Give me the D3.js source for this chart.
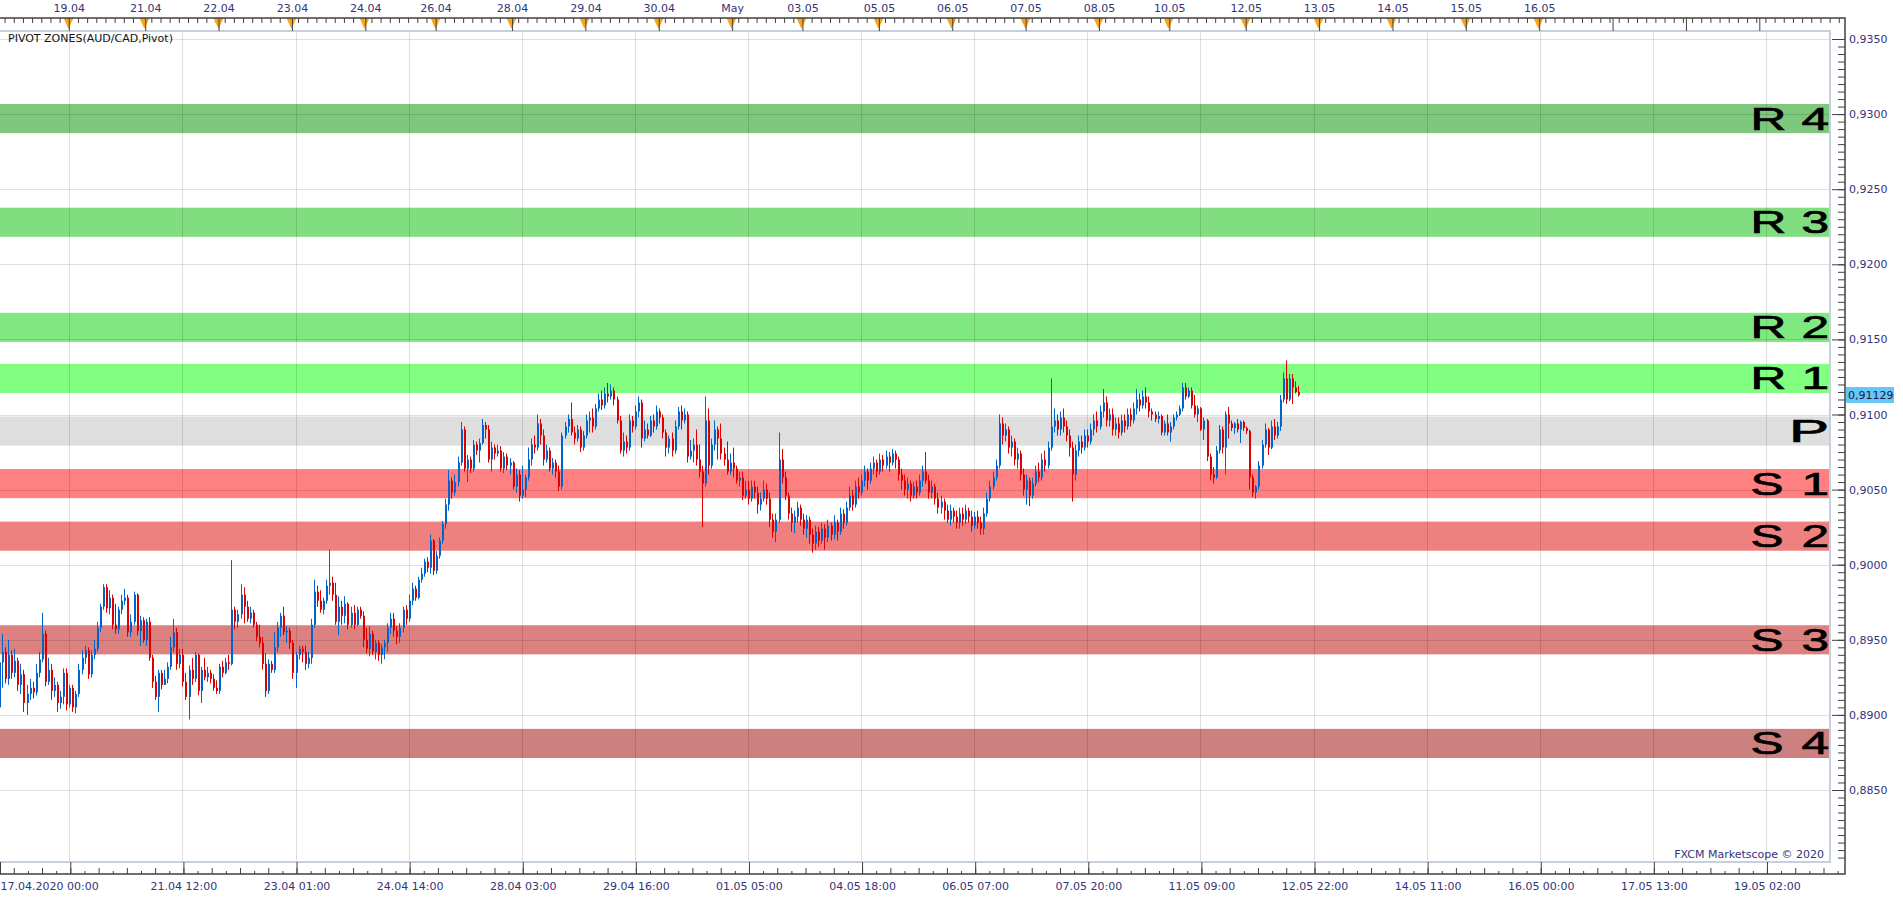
<!DOCTYPE html>
<html>
<head>
<meta charset="utf-8">
<script src="https://cdn.jsdelivr.net/npm/d3@7"></script>
<style>
  body { margin: 0; background: #fff; }
  svg { display: block; }
</style>
</head>
<body>
<div id="chart"></div>
<script>
// pivot zones (centre of each band)
const zoneNames = ['R4', 'R3', 'R2', 'R1', 'P', 'S1', 'S2', 'S3', 'S4'];
const zoneLevels = [0.9297, 0.9228, 0.9158, 0.9124, 0.9089, 0.9054, 0.9019, 0.8950, 0.8881];
const zoneColors = ['#7dc87d', '#80dd80', '#80e880', '#80ff80', '#dedede', '#ff8080', '#ee8080', '#dd8080', '#cd8080'];
const zoneHalf = 0.00097;

const priceTicks = [0.8850, 0.8900, 0.8950, 0.9000, 0.9050, 0.9100, 0.9150, 0.9200, 0.9250, 0.9300, 0.9350];
const lastPrice = 0.91129;

// top axis: day labels at bar boundaries (hourly bars, weekends collapsed)
const topTickLabels = ['19.04', '21.04', '22.04', '23.04', '24.04', '26.04', '28.04', '29.04', '30.04', 'May',
  '03.05', '05.05', '06.05', '07.05', '08.05', '10.05', '12.05', '13.05', '14.05', '15.05', '16.05'];
const topTickBars = [22.5, 47.5, 71.5, 95.5, 119.5, 142.5, 167.5, 191.5, 215.5, 239.5,
  262.5, 287.5, 311.5, 335.5, 359.5, 382.5, 407.5, 431.5, 455.5, 479.5, 503.5];
const topEmptyBars = [527.5, 551.5, 575.5];

// bottom axis
const bottomTickLabels = ['17.04.2020 00:00', '', '21.04 12:00', '23.04 01:00', '24.04 14:00', '28.04 03:00', '29.04 16:00',
  '01.05 05:00', '04.05 18:00', '06.05 07:00', '07.05 20:00', '11.05 09:00', '12.05 22:00', '14.05 11:00',
  '16.05 00:00', '17.05 13:00', '19.05 02:00'];
const bottomTickBars = [0, 23, 60, 97, 134, 171, 208, 245, 282, 319, 356, 393, 430, 467, 504, 541, 578];

// AUD/CAD H1 candles, in pips from 0.9000; open of a bar is the previous close
const firstOpen = -95;
const closes = [
  -65,-58,-76,-60,-72,-64,-80,-73,-92,-86, -82,-85,-72,-63,-46,-78,-70,-84,-80,-92,
  -88,-72,-93,-82,-95,-86,-70,-62,-57,-73, -60,-56,-42,-28,-15,-29,-22,-40,-43,-30,
  -24,-22,-45,-38,-20,-44,-37,-50,-38,-62, -78,-88,-72,-80,-76,-68,-55,-45,-66,-60,
  -78,-88,-70,-76,-60,-84,-70,-75,-72,-76, -82,-84,-68,-72,-65,-66,-30,-38,-33,-20,
  -28,-36,-32,-40,-48,-52,-66,-84,-66,-70, -55,-42,-34,-45,-44,-52,-72,-60,-56,-58,
  -66,-62,-40,-18,-24,-30,-24,-14,-12,-20, -38,-28,-34,-26,-40,-32,-40,-30,-34,-50,
  -56,-46,-58,-52,-60,-55,-52,-42,-36,-44, -48,-42,-30,-36,-24,-16,-22,-10,-6,2,
  -2,16,-4,6,16,27,40,56,48,55, 68,90,64,70,64,80,76,81,93,90,
  70,78,74,76,64,72,66,68,52,60, 46,50,58,70,80,78,94,86,70,76,
  64,68,62,52,86,92,97,88,84,90, 78,86,96,98,92,104,110,106,114,112,
  116,110,96,76,82,78,96,92,102,108, 84,90,86,96,92,102,98,88,78,84,
  76,92,102,96,100,72,76,80,70,62, 54,96,66,80,90,84,74,70,62,68,
  64,56,58,46,50,44,52,48,40,44, 50,44,30,22,30,70,58,46,34,28,
  32,38,30,24,30,20,14,22,16,24, 18,26,20,28,22,34,28,38,46,40,
  52,48,56,62,56,64,68,62,70,66, 72,68,74,70,60,56,50,54,46,52,
  48,56,62,56,48,52,44,38,42,36, 30,36,32,28,34,30,36,32,26,32,
  28,24,34,44,52,58,66,94,86,90, 78,82,70,74,60,50,56,46,54,62,
  58,70,66,78,92,96,90,98,92,86, 78,60,76,82,78,86,82,90,96,92,
  102,108,96,100,90,94,88,96,92,100, 96,104,110,106,112,108,102,100,97,99,
  88,94,88,92,98,100,104,118,112,116, 106,100,104,90,96,72,60,58,76,90,
  78,100,94,91,94,90,95,91,89,58, 48,52,66,80,90,78,92,86,92,110,
  124,110,124,118,115,113
];
const highs = [
  -61,-46,-55,-50,-57,-56,-62,-66,-70,-80, -76,-78,-66,-58,-32,-44,-62,-66,-75,-78,
  -84,-69,-69,-80,-80,-84,-66,-57,-54,-55, -57,-50,-38,-26,-13,-13,-17,-20,-26,-28,
  -20,-16,-20,-33,-18,-19,-34,-35,-36,-35, -60,-74,-70,-70,-70,-65,-48,-36,-42,-56,
  -56,-72,-67,-62,-58,-59,-68,-62,-68,-70, -73,-77,-66,-64,-62,-60,3,-28,-30,-13,
  -15,-24,-28,-30,-38,-40,-48,-59,-63,-64, -45,-38,-32,-28,-41,-42,-50,-58,-54,-54,
  -54,-58,-36,-10,-14,-17,-22,-10,10,-8, -12,-21,-24,-21,-25,-28,-27,-28,-28,-31,
  -42,-41,-44,-50,-50,-53,-50,-39,-32,-32, -41,-39,-28,-27,-20,-12,-14,-8,-2,4,
  5,20,17,9,18,29,44,63,58,60, 72,95,92,73,72,83,82,84,97,95,
  93,82,80,80,79,75,74,71,69,64, 63,66,60,78,84,86,100,97,90,80,
  78,71,70,66,88,95,100,108,92,93, 92,89,100,102,104,107,114,116,118,121,
  120,118,112,99,88,86,100,99,106,112, 110,96,94,99,100,106,104,100,90,86,
  88,96,105,106,104,102,83,84,90,80, 66,112,104,84,96,92,94,78,82,74,
  78,66,62,62,56,56,56,56,52,48, 56,54,48,34,34,88,77,62,48,38,
  36,42,40,34,33,32,24,26,25,28, 27,30,28,33,30,38,37,42,52,50,
  56,58,60,66,64,68,72,70,74,73, 76,75,77,76,72,64,60,58,56,55,
  56,60,66,75,60,56,54,48,46,44, 40,40,38,36,38,38,40,38,36,35,
  36,32,38,48,56,62,70,100,98,94, 92,86,84,78,76,64,60,58,58,66,
  68,74,76,82,124,104,100,102,104,96, 90,82,80,86,86,90,90,94,100,102,
  106,117,112,104,104,98,98,100,100,104, 104,108,117,114,116,118,112,104,102,102,
  100,96,100,95,100,102,106,121,121,118, 118,113,106,105,98,97,74,65,79,93,
  92,102,105,96,95,97,96,96,92,90, 60,53,69,83,94,91,96,97,95,113,
  128,136,127,127,122,119
];
const lows = [
  -107,-82,-79,-80,-76,-75,-84,-86,-98,-100, -90,-89,-87,-75,-65,-81,-80,-90,-88,-98,
  -96,-93,-97,-95,-98,-99,-88,-73,-66,-76, -75,-63,-58,-45,-30,-32,-33,-43,-46,-46,
  -33,-27,-48,-48,-40,-47,-54,-52,-54,-64, -82,-90,-98,-83,-80,-79,-70,-58,-70,-69,
  -81,-90,-103,-80,-78,-87,-92,-77,-78,-79, -84,-86,-86,-75,-73,-70,-67,-43,-42,-36,
  -39,-38,-39,-42,-51,-55,-70,-88,-86,-72, -72,-58,-48,-47,-52,-56,-76,-82,-63,-65,
  -70,-69,-66,-42,-28,-32,-33,-26,-20,-24, -40,-47,-40,-39,-43,-42,-43,-41,-36,-55,
  -59,-61,-60,-63,-64,-66,-63,-58,-46,-48, -53,-52,-45,-40,-38,-27,-24,-23,-12,-8,
  -5,-6,-7,-6,4,14,24,36,44,46, 52,66,62,55,61,62,73,68,80,84,
  68,62,70,72,62,61,63,60,50,48, 42,44,45,56,66,74,76,80,66,68,
  62,60,58,49,50,84,88,86,80,82, 75,76,84,88,88,90,102,103,104,108,
  110,106,94,74,72,74,76,88,90,98, 78,82,84,85,88,90,94,84,72,74,
  72,74,90,90,94,68,70,68,66,58, 25,52,60,64,76,70,70,66,60,60,
  58,54,52,43,44,40,42,44,34,36, 42,40,25,18,15,28,54,43,30,22,
  21,28,26,20,18,14,8,10,12,14, 10,15,16,17,16,20,24,26,36,36,
  38,44,46,52,50,54,60,58,60,62, 64,62,66,64,56,50,46,44,42,44,
  44,46,52,54,44,44,40,34,34,30, 28,26,28,24,24,26,27,28,22,24,
  24,20,20,32,42,50,56,64,80,82, 74,72,66,64,56,46,40,39,44,52,
  55,56,62,64,76,88,86,86,88,82, 72,42,56,72,74,76,78,80,86,88,
  90,98,92,92,86,86,84,86,88,90, 92,94,100,102,104,104,98,96,95,94,
  86,86,86,82,90,96,99,102,110,111, 104,98,95,89,83,69,56,54,57,74,
  74,60,84,89,87,88,81,89,87,50, 45,44,50,64,78,73,77,83,84,89,
  108,107,109,107,114,112
];

const W = 1903, H = 900;
const plotRight = 1830, plotTop = 31, plotBottom = 862;
const axisX = 1845, topAxisY = 18, bottomAxisY = 874;
const axisColor = '#404040';
const labelColor = '#33337a';
const gridColor = 'rgba(0,0,0,0.12)';
const upColor = '#0064c8';
const downColor = '#dc0000';
const axisFont = '"DejaVu Sans", Verdana, sans-serif';

const toPrice = p => 0.9 + p / 10000;

const x = d3.scaleLinear().domain([0, 600]).range([0, 1834.2]);
const y = d3.scaleLinear().domain([0.8850, 0.9350]).range([790, 39]);

const svg = d3.select('#chart').append('svg')
  .attr('width', W)
  .attr('height', H);

svg.append('rect').attr('width', W).attr('height', H).attr('fill', '#fff');

svg.append('defs').append('clipPath').attr('id', 'plotClip')
  .append('rect')
  .attr('x', 0).attr('y', plotTop)
  .attr('width', plotRight).attr('height', plotBottom - plotTop);

const plot = svg.append('g').attr('clip-path', 'url(#plotClip)');

// Zones
plot.selectAll('rect.zone')
  .data(zoneLevels)
  .join('rect')
  .attr('class', 'zone')
  .attr('x', 0)
  .attr('width', plotRight)
  .attr('y', d => y(d + zoneHalf))
  .attr('height', d => y(d - zoneHalf) - y(d + zoneHalf))
  .attr('fill', (d, i) => zoneColors[i]);

// Grid
plot.selectAll('line.hgrid')
  .data(priceTicks)
  .join('line')
  .attr('x1', 0).attr('x2', plotRight)
  .attr('y1', d => Math.round(y(d)) + 0.5)
  .attr('y2', d => Math.round(y(d)) + 0.5)
  .attr('stroke', gridColor);

plot.selectAll('line.vgrid')
  .data(bottomTickBars.slice(1))
  .join('line')
  .attr('x1', d => Math.round(x(d)) - 0.5)
  .attr('x2', d => Math.round(x(d)) - 0.5)
  .attr('y1', plotTop).attr('y2', plotBottom)
  .attr('stroke', gridColor);

// Candles
const bars = closes.map((c, i) => ({
  i,
  o: i === 0 ? firstOpen : closes[i - 1],
  c,
  h: highs[i],
  l: lows[i]
}));
const barColor = d => d.c >= d.o ? upColor : downColor;

const candles = plot.append('g');
candles.selectAll('rect.wick')
  .data(bars)
  .join('rect')
  .attr('class', 'wick')
  .attr('x', d => Math.round(x(d.i)) - 1)
  .attr('width', 1)
  .attr('y', d => y(toPrice(Math.max(d.h, d.o, d.c))))
  .attr('height', d => Math.max(1, y(toPrice(Math.min(d.l, d.o, d.c))) - y(toPrice(Math.max(d.h, d.o, d.c)))))
  .attr('fill', barColor);

candles.selectAll('rect.body')
  .data(bars)
  .join('rect')
  .attr('class', 'body')
  .attr('x', d => Math.round(x(d.i)) - 1)
  .attr('width', 2)
  .attr('y', d => y(toPrice(Math.max(d.o, d.c))))
  .attr('height', d => Math.max(1, y(toPrice(Math.min(d.o, d.c))) - y(toPrice(Math.max(d.o, d.c)))))
  .attr('fill', barColor);

// Zone labels (wide, heavy lettering)
svg.append('g').selectAll('g.zlabel')
  .data(zoneLevels)
  .join('g')
  .attr('transform', d => `translate(1829,${y(d) + 11}) scale(1.6,1)`)
  .append('text')
  .attr('text-anchor', 'end')
  .attr('font-family', '"Liberation Sans", Arial, sans-serif')
  .attr('font-size', 31)
  .attr('fill', '#000')
  .attr('stroke', '#000')
  .attr('stroke-width', 0.7)
  .each(function (d, i) {
    const t = d3.select(this).text(zoneNames[i]);
    if (zoneNames[i].length > 1) t.attr('textLength', 49).attr('lengthAdjust', 'spacing');
    else t.attr('textLength', 25).attr('lengthAdjust', 'spacingAndGlyphs');
  });

// Plot frame
svg.append('rect')
  .attr('x', -2).attr('y', plotTop)
  .attr('width', plotRight + 2).attr('height', plotBottom - plotTop)
  .attr('fill', 'none')
  .attr('stroke', '#c6d0dc')
  .attr('stroke-width', 2);

// Right price axis
const yMinor = d3.range(1, 111).map(k => 0.8800 + k * 0.0005).filter(v => v <= 0.93501);
svg.append('g')
  .attr('transform', `translate(${axisX},0)`)
  .call(d3.axisRight(y).tickValues(yMinor).tickSizeInner(-7).tickSizeOuter(0).tickFormat(''))
  .call(g => g.select('.domain').remove())
  .call(g => g.selectAll('line').attr('stroke', axisColor));

svg.append('g')
  .attr('transform', `translate(${axisX},0)`)
  .call(d3.axisRight(y).tickValues(priceTicks).tickSizeInner(-13).tickSizeOuter(0).tickPadding(4)
    .tickFormat(d => d3.format('.4f')(d).replace('.', ',')))
  .call(g => g.select('.domain').remove())
  .call(g => g.selectAll('line').attr('stroke', axisColor))
  .call(g => g.selectAll('text')
    .attr('font-family', axisFont)
    .attr('font-size', 11)
    .attr('fill', labelColor));

// current price marker
svg.append('rect')
  .attr('x', axisX + 1).attr('y', Math.round(y(lastPrice)) - 8)
  .attr('width', 48).attr('height', 16)
  .attr('fill', '#66c6f5');
svg.append('text')
  .attr('x', axisX + 3).attr('y', Math.round(y(lastPrice)) + 4)
  .attr('font-family', axisFont).attr('font-size', 11)
  .attr('fill', '#1a1a40')
  .text(d3.format('.5f')(lastPrice).replace('.', ','));

// Top axis
const topMinor = d3.range(1.5, 603, 3);
svg.append('g')
  .attr('transform', `translate(0,${topAxisY})`)
  .call(d3.axisTop(x).tickValues(topMinor).tickSizeInner(-5).tickSizeOuter(0).tickFormat(''))
  .call(g => g.select('.domain').remove())
  .call(g => g.selectAll('line').attr('stroke', axisColor));

svg.append('g').selectAll('path.flag')
  .data(topTickBars)
  .join('path')
  .attr('d', d => {
    const cx = Math.round(x(d)) - 0.5;
    return `M${cx - 5},${topAxisY}L${cx + 5},${topAxisY}L${cx},${topAxisY + 11}Z`;
  })
  .attr('fill', '#f7a51e');

svg.append('g')
  .attr('transform', `translate(0,${topAxisY})`)
  .call(d3.axisTop(x).tickValues(topTickBars.concat(topEmptyBars)).tickSizeInner(-13).tickSizeOuter(0).tickPadding(6)
    .tickFormat((d, i) => topTickLabels[i] || ''))
  .call(g => g.select('.domain').remove())
  .call(g => g.selectAll('line').attr('stroke', axisColor))
  .call(g => g.selectAll('text')
    .attr('font-family', axisFont)
    .attr('font-size', 11)
    .attr('fill', labelColor));

// Bottom axis
const bottomMinor = d3.range(4.5, 603, 37 / 8);
svg.append('g')
  .attr('transform', `translate(0,${bottomAxisY})`)
  .call(d3.axisBottom(x).tickValues(bottomMinor).tickSizeOuter(0).tickFormat(''))
  .call(g => g.select('.domain').remove())
  .call(g => g.selectAll('line')
    .attr('stroke', axisColor)
    .attr('y2', (d, i) => (i % 2 === 0) ? -6 : -3));

svg.append('g')
  .attr('transform', `translate(0,${bottomAxisY})`)
  .call(d3.axisBottom(x).tickValues(bottomTickBars).tickSizeInner(-12).tickSizeOuter(0).tickPadding(8)
    .tickFormat((d, i) => bottomTickLabels[i]))
  .call(g => g.select('.domain').remove())
  .call(g => g.selectAll('line').attr('stroke', axisColor))
  .call(g => g.selectAll('text')
    .attr('font-family', axisFont)
    .attr('font-size', 11)
    .attr('fill', labelColor)
    .attr('text-anchor', (d, i) => i === 0 ? 'start' : 'middle'));

// axis lines
svg.append('path')
  .attr('d', `M0,${topAxisY}H${axisX}V${bottomAxisY}H0`)
  .attr('fill', 'none')
  .attr('stroke', axisColor)
  .attr('stroke-width', 1.5);

// Titles
svg.append('text')
  .attr('x', 8).attr('y', 42)
  .attr('font-family', axisFont).attr('font-size', 11)
  .attr('fill', '#111')
  .text('PIVOT ZONES(AUD/CAD,Pivot)');

svg.append('text')
  .attr('x', 1824).attr('y', 858)
  .attr('text-anchor', 'end')
  .attr('font-family', axisFont).attr('font-size', 11)
  .attr('fill', labelColor)
  .text('FXCM Marketscope © 2020');
</script>
</body>
</html>
